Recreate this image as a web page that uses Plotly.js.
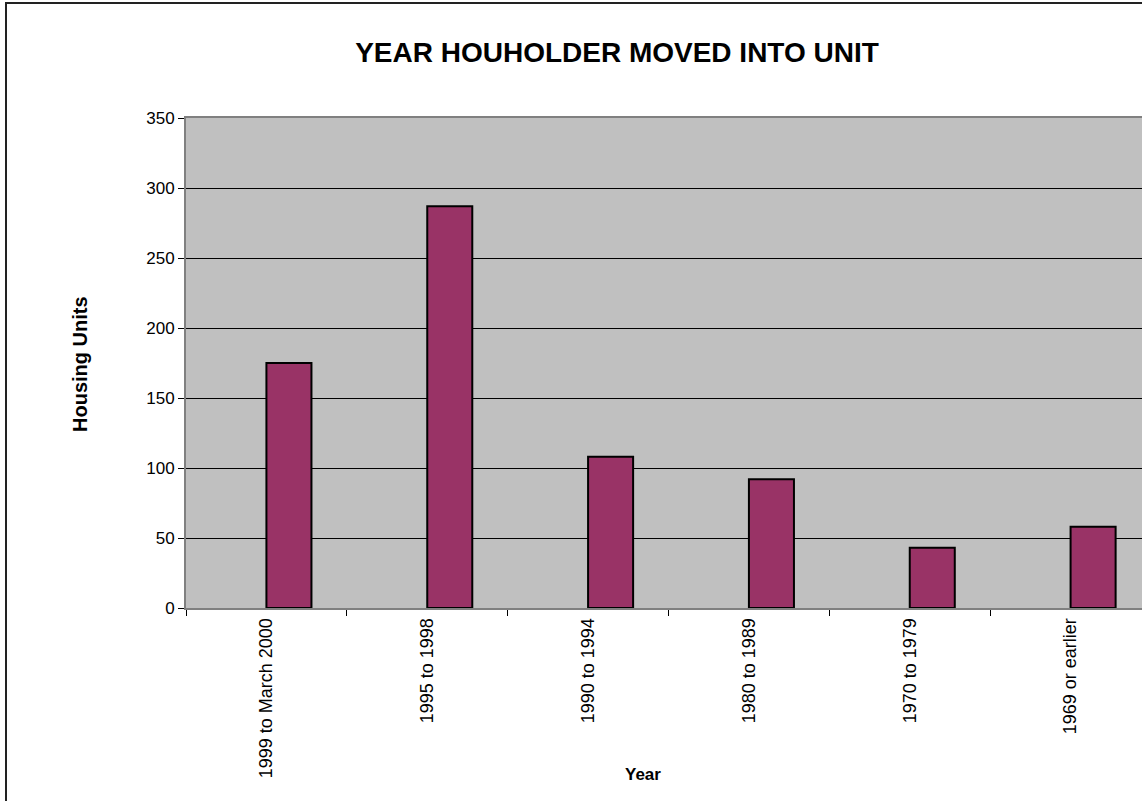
<!DOCTYPE html>
<html>
<head>
<meta charset="utf-8">
<script src="https://cdn.plot.ly/plotly-3.0.1.min.js"></script>
<style>
html,body{margin:0;padding:0;overflow:hidden;background:#fff;}
#wrap{position:relative;width:1142px;height:801px;overflow:hidden;}
#chart{position:absolute;left:0;top:0;width:1155px;height:801px;}
#frame{position:absolute;left:5px;top:2px;width:1200px;height:900px;border-left:2px solid #222;border-top:2px solid #222;pointer-events:none;}
</style>
</head>
<body>
<div id="wrap"><div id="chart"></div><div id="frame"></div></div>
<script>
const categories = ["1999 to March 2000", "1995 to 1998", "1990 to 1994", "1980 to 1989", "1970 to 1979", "1969 or earlier"];
const housingUnits = [175, 287, 108, 92, 43, 58];
const yTicks = [0, 50, 100, 150, 200, 250, 300, 350];

const FONT = "Arial, 'Liberation Sans', sans-serif";
const W = 1155, H = 801, L = 186, R = 4, T = 118, B = 193;
const pw = W - L - R, ph = H - T - B;

const trace = {
  type: "bar",
  x: categories,
  y: housingUnits,
  width: 0.28,
  offset: 0,
  marker: {color: "#993366", line: {color: "#000000", width: 2}},
  hoverinfo: "x+y"
};

const layout = {
  width: W, height: H,
  margin: {l: L, r: R, t: T, b: B, pad: 0},
  paper_bgcolor: "#ffffff",
  plot_bgcolor: "#C0C0C0",
  showlegend: false,
  font: {family: FONT, size: 17, color: "#000"},
  title: {
    text: "YEAR HOUHOLDER MOVED INTO UNIT",
    font: {family: FONT, size: 28, weight: "bold", color: "#000"},
    xref: "container", x: 617 / W, xanchor: "center",
    yref: "container", y: 1 - 52 / H, yanchor: "middle"
  },
  xaxis: {
    type: "category",
    range: [-0.5, 5.5],
    tickson: "boundaries",
    ticks: "outside", ticklen: 6, tickcolor: "#000", tickwidth: 1,
    tickangle: -90,
    ticklabelstandoff: 1,
    tickfont: {family: FONT, size: 18, color: "#000"},
    showline: true, linecolor: "#808080", linewidth: 2, mirror: true,
    showgrid: false, zeroline: false,
    fixedrange: true
  },
  yaxis: {
    range: [0, 350],
    tickvals: yTicks,
    ticktext: yTicks.map(String),
    ticks: "outside", ticklen: 6, tickcolor: "#000", tickwidth: 1,
    tickfont: {family: FONT, size: 17, color: "#000"},
    showline: true, linecolor: "#808080", linewidth: 2,
    showgrid: true, gridcolor: "#000000", gridwidth: 1,
    zeroline: false,
    fixedrange: true
  },
  annotations: [
    {
      text: "Housing Units", textangle: -90,
      xref: "paper", yref: "paper",
      x: (80 - L) / pw, y: (H - B - 364) / ph,
      xanchor: "center", yanchor: "middle", showarrow: false,
      font: {family: FONT, size: 20, weight: "bold", color: "#000"}
    },
    {
      text: "Year",
      xref: "paper", yref: "paper",
      x: (643 - L) / pw, y: (H - B - 774) / ph,
      xanchor: "center", yanchor: "middle", showarrow: false,
      font: {family: FONT, size: 17, weight: "bold", color: "#000"}
    }
  ]
};

Plotly.newPlot("chart", [trace], layout, {displayModeBar: false, staticPlot: true});
</script>
</body>
</html>
